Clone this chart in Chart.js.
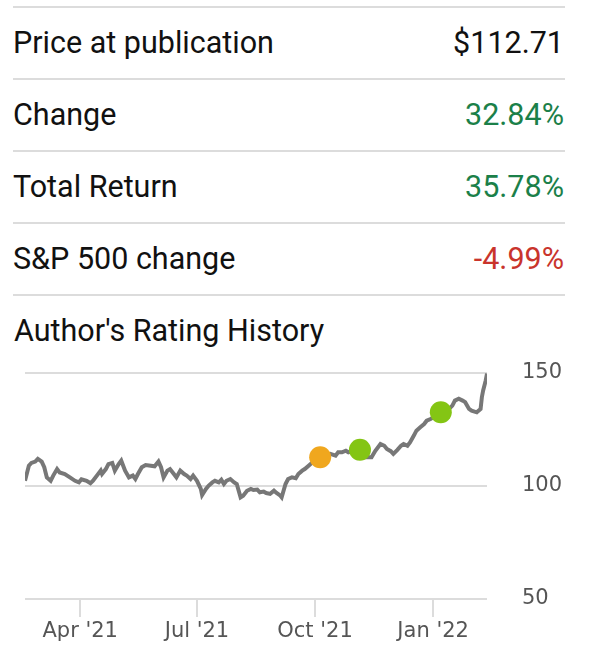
<!DOCTYPE html>
<html>
<head>
<meta charset="utf-8">
<script src="https://cdn.jsdelivr.net/npm/chart.js@4/dist/chart.umd.min.js"></script>
<style>
  body { margin: 0; background: #fff; width: 601px; height: 657px; position: relative; overflow: hidden; font-family: Roboto, sans-serif; }
  .row { position: absolute; left: 13px; width: 552px; height: 72px; border-top: 2px solid #dcdcdc; line-height: 70px; font-size: 30.5px; color: #111; }
  .row.last { height: 0; }
  .row .val { position: absolute; right: 1px; top: 0; }
  .up { color: #1b8049; }
  .down { color: #c9342c; }
  #title { position: absolute; left: 14px; top: 311px; font-size: 30.5px; line-height: 40px; color: #111; }
  #wrap { position: absolute; left: 0; top: 360px; width: 601px; height: 297px; }
</style>
</head>
<body>
<div class="row" style="top:6px">Price at publication<span class="val">$112.71</span></div>
<div class="row" style="top:78px">Change<span class="val up">32.84%</span></div>
<div class="row" style="top:150px">Total Return<span class="val up">35.78%</span></div>
<div class="row" style="top:222px">S&amp;P 500 change<span class="val down">-4.99%</span></div>
<div class="row last" style="top:294px"></div>
<div id="title">Author's Rating History</div>
<div id="wrap"><canvas id="myChart"></canvas></div>
<script>
// days counted from Apr 1 2021
const days = [-43, -40, -38, -35, -33, -30, -28, -26, -23, -21, -18, -16, -12, -8, -4, -1, 1, 5, 8, 10,
  13, 16, 17, 20, 22, 25, 27, 30, 32, 35, 38, 41, 43, 45, 48, 51, 55, 58, 61, 63,
  65, 68, 70, 73, 75, 78, 81, 83, 86, 88, 91, 94, 95, 98, 100, 103, 105, 108, 110, 112,
  114, 117, 120, 122, 125, 127, 130, 133, 135, 138, 140, 143, 145, 148, 151, 153, 156, 157, 160, 162,
  165, 168, 170, 173, 175, 178, 181, 183, 187, 191, 195, 199, 201, 204, 207, 209, 213, 216, 219, 222,
  227, 230, 234, 237, 239, 242, 244, 247, 250, 252, 255, 257, 260, 262, 265, 268, 270, 273, 275, 281,
  286, 290, 292, 295, 298, 300, 303, 305, 309, 312, 313, 314, 315, 316, 317];
const prices = [102.3, 109.0, 110.2, 110.8, 112.0, 110.8, 108.3, 103.8, 102.3, 104.6, 107.5, 106.0, 105.3, 103.8, 102.3, 101.6, 103.0, 102.3, 101.2, 102.3,
  104.6, 106.8, 105.3, 107.5, 109.7, 110.2, 106.8, 109.7, 111.2, 106.8, 103.8, 104.6, 103.1, 105.3, 108.3, 109.3, 109.0, 108.7, 110.8, 108.3,
  103.8, 106.8, 107.5, 105.3, 103.8, 106.8, 105.3, 104.6, 103.1, 104.6, 102.3, 98.7, 96.0, 98.7, 100.1, 101.6, 102.3, 101.6, 102.8, 100.9,
  102.3, 103.1, 101.6, 100.9, 95.0, 95.7, 97.9, 98.7, 98.2, 98.4, 97.2, 97.5, 96.9, 96.5, 97.9, 96.9, 95.7, 95.0, 100.9, 103.1,
  103.8, 103.4, 105.3, 106.8, 107.5, 109.0, 110.5, 111.2, 112.71, 113.1, 114.2, 113.4, 114.9, 114.9, 115.6, 114.9, 115.6, 112.7, 114.5, 112.7,
  112.7, 115.6, 118.6, 117.8, 116.4, 115.4, 114.2, 115.9, 117.8, 118.6, 117.8, 119.3, 122.3, 124.5, 126.0, 127.4, 128.9, 129.6, 130.4, 132.6,
  133.3, 135.6, 137.8, 138.6, 137.8, 137.1, 134.1, 133.3, 132.6, 134.1, 139.3, 142.3, 144.5, 146.7, 149.73];

const ratingDays = [187, 218, 281];
const ratingPrices = [112.71, 116.0, 132.6];
const ratings = ['Hold', 'Buy', 'Buy'];
const ratingColors = { 'Hold': '#f0a71e', 'Buy': '#84c514' };

const tickDays = [0, 91, 183, 275];
const tickLabels = ["Apr '21", "Jul '21", "Oct '21", "Jan '22"];
const yTicks = [50, 100, 150];

const axisFont = { family: 'DejaVu Sans', size: 21 };

new Chart('myChart', {
  type: 'line',
  data: {
    datasets: [{
      type: 'scatter',
      data: ratingDays.map((d, i) => ({ x: d, y: ratingPrices[i] })),
      backgroundColor: ratings.map(r => ratingColors[r]),
      pointRadius: 11,
      pointBorderWidth: 0,
      order: 0
    }, {
      data: days.map((d, i) => ({ x: d, y: prices[i] })),
      borderColor: '#777777',
      borderWidth: 4,
      pointRadius: 0,
      tension: 0,
      order: 1
    }]
  },
  options: {
    responsive: true,
    maintainAspectRatio: false,
    animation: false,
    layout: { padding: { left: 25, top: 13, right: 0, bottom: 0 } },
    plugins: { legend: { display: false }, tooltip: { enabled: false } },
    scales: {
      x: {
        type: 'linear',
        min: -43,
        max: 317,
        afterBuildTicks: scale => { scale.ticks = tickDays.map(v => ({ value: v })); },
        afterFit: scale => { scale.height = 58; },
        ticks: {
          font: axisFont,
          color: '#555',
          padding: 2,
          maxRotation: 0,
          autoSkip: false,
          callback: v => tickLabels[tickDays.indexOf(v)]
        },
        grid: { drawOnChartArea: false, drawTicks: true, tickLength: 18, color: '#dcdcdc', lineWidth: 2 },
        border: { display: false }
      },
      y: {
        position: 'right',
        min: 50,
        max: 150,
        afterBuildTicks: scale => { scale.ticks = yTicks.map(v => ({ value: v })); },
        afterFit: scale => {
          // keep the big label gap from pushing the plot down
          scale.width = 114;
          scale.paddingTop = 0;
          scale.paddingBottom = 0;
        },
        ticks: { font: axisFont, color: '#555', padding: 35 },
        grid: { drawTicks: false, color: '#dcdcdc', lineWidth: 2 },
        border: { display: false }
      }
    }
  }
});
</script>
</body>
</html>
